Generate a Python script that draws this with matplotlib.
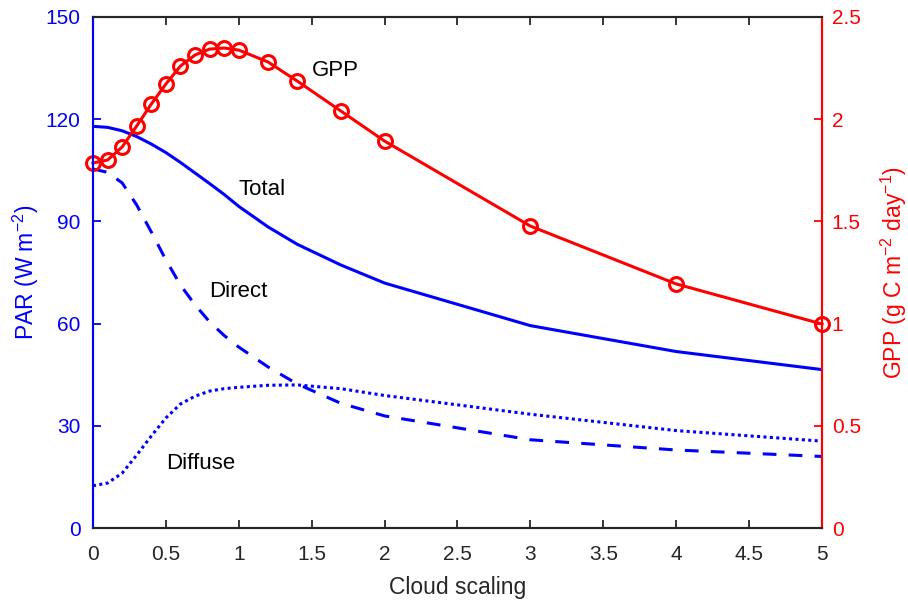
import matplotlib.pyplot as plt

plt.rcParams['font.family'] = ['Liberation Sans', 'DejaVu Sans']
plt.rcParams['mathtext.fontset'] = 'custom'
plt.rcParams['mathtext.rm'] = 'Liberation Sans'
plt.rcParams['mathtext.it'] = 'Liberation Sans:italic'

# Données
cloud = [0, 0.1, 0.2, 0.3, 0.4, 0.5, 0.6, 0.7, 0.8, 0.9, 1.0, 1.2, 1.4, 1.7, 2, 3, 4, 5]
gpp = [1.786, 1.80, 1.864, 1.967, 2.074, 2.172, 2.26, 2.314, 2.343, 2.348, 2.338,
       2.28, 2.187, 2.04, 1.893, 1.477, 1.194, 0.998]
par_total = [117.9, 117.6, 116.6, 114.9, 112.7, 110.2, 107.3, 104.2, 101.1, 97.9, 94.4,
             88.4, 83.3, 77.2, 71.9, 59.4, 51.8, 46.5]
par_direct = [105.4, 104.4, 101.3, 94.8, 86.9, 78.7, 71.3, 65.5, 60.5, 56.5, 53.1,
              47.3, 42.3, 36.6, 32.9, 25.9, 22.9, 21.0]
par_diffuse = [12.4, 13.2, 16.1, 21.4, 27.0, 32.3, 36.4, 38.7, 40.2, 40.9, 41.3,
               41.9, 42.0, 40.9, 38.9, 33.4, 28.6, 25.5]

blue = '#0000ff'
red = '#ff0000'
dark = '#262626'

fig = plt.figure(figsize=(9.08, 6.04), dpi=100)
ax = fig.add_axes([0.1024, 0.1258, 0.8029, 0.8461])
ax2 = ax.twinx()

ax.plot(cloud, par_total, color=blue, lw=2.2)
ax.plot(cloud, par_direct, color=blue, lw=2.2, ls=(0, (4.5, 4)))
ax.plot(cloud, par_diffuse, color=blue, lw=2.2, ls=(0, (1, 1.1)))
ax2.plot(cloud, gpp, color=red, lw=2.2, marker='o', ms=10, mfc='none', mew=2.2,
         clip_on=False)

ax.set_xlim(0, 5)
ax.set_ylim(0, 150)
ax2.set_ylim(0, 2.5)
ax.set_xticks([0, 0.5, 1, 1.5, 2, 2.5, 3, 3.5, 4, 4.5, 5])
ax.set_xticklabels(['0', '0.5', '1', '1.5', '2', '2.5', '3', '3.5', '4', '4.5', '5'])
ax.set_yticks([0, 30, 60, 90, 120, 150])
ax2.set_yticks([0, 0.5, 1, 1.5, 2, 2.5])
ax2.set_yticklabels(['0', '0.5', '1', '1.5', '2', '2.5'])

ax.set_xlabel('Cloud scaling', fontsize=16.5, color=dark, labelpad=9)
ax.set_ylabel('PAR (W m$^{-2}$)', fontsize=16.5, color=blue, labelpad=3)
ax2.set_ylabel('GPP (g C m$^{-2}$ day$^{-1}$)', fontsize=16.5, color=red, labelpad=13)

ax.tick_params(axis='x', direction='in', top=True, colors=dark, labelsize=15,
               length=6, width=1.3, pad=12)
ax.tick_params(axis='y', direction='in', colors=blue, labelsize=15, length=6, width=1.3,
               pad=9)
ax2.tick_params(axis='y', direction='in', colors=red, labelsize=15, length=6, width=1.3,
                pad=7)

for a in (ax, ax2):
    a.spines['top'].set_color(dark)
    a.spines['bottom'].set_color(dark)
    a.spines['left'].set_color(blue)
    a.spines['right'].set_color(red)
    for s in a.spines.values():
        s.set_linewidth(1.5)

ax.text(1.0, 99.5, 'Total', fontsize=16, va='center')
ax.text(0.8, 69.3, 'Direct', fontsize=16, va='center')
ax.text(0.5, 19.0, 'Diffuse', fontsize=16, va='center')
ax.text(1.5, 134.4, 'GPP', fontsize=16, va='center')

fig.savefig('out.png', dpi=100)
